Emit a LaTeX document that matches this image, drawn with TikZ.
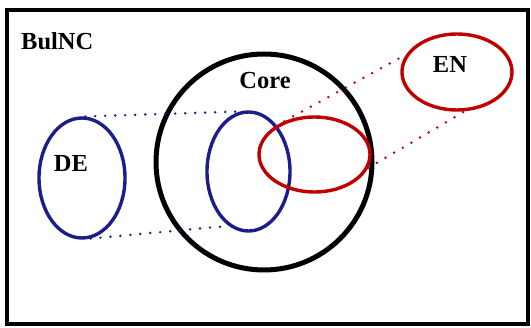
\documentclass[tikz,border=0pt]{standalone}
\usepackage{fontspec}
\setmainfont{Liberation Serif}
\usetikzlibrary{shapes.geometric}
\definecolor{deblue}{RGB}{28,28,140}
\definecolor{enred}{RGB}{192,0,0}
\begin{document}
\begin{tikzpicture}[x=1pt,y=-1pt,
  lbl/.style={font=\fontsize{24.5}{28}\selectfont\bfseries, inner sep=0pt},
  oval/.style={ellipse, draw, line width=3.4pt, inner sep=0pt},
  blueoval/.style={oval, draw=deblue},
  redoval/.style={oval, draw=enred},
  dotline/.style={line width=2.7pt, line cap=round, dash pattern=on 0pt off 10pt}
]
\useasboundingbox (0,0) rectangle (531,328);
\node[draw, line width=4pt, minimum width=521pt, minimum height=314.5pt, inner sep=0pt] (frame) at (267.5,167.25) {};
\node[circle, draw, line width=5pt, minimum size=216pt, inner sep=0pt] (core) at (264,162) {};
\node[blueoval, minimum width=86pt, minimum height=120pt] (de) at (82,178) {};
\node[blueoval, minimum width=83pt, minimum height=119pt] (dein) at (248.5,171.5) {};
\node[redoval, minimum width=111pt, minimum height=75pt] (enin) at (314.5,154.5) {};
\node[redoval, minimum width=110pt, minimum height=76pt] (en) at (457,72) {};
\node[lbl, anchor=west] (bulnc) at (21,41) {BulNC};
\node[lbl] (corelbl) at (265,81) {Core};
\node[lbl] (delbl) at (71,164) {DE};
\node[lbl] (enlbl) at (450,64.5) {EN};
\draw[dotline, deblue] (de.87) -- (dein.98);
\draw[dotline, deblue] (de.-82) -- (dein.-110);
\draw[dotline, enred] (enin.132) -- (en.161);
\draw[dotline, enred] (enin.-14) -- (en.-79);
\end{tikzpicture}
\end{document}
